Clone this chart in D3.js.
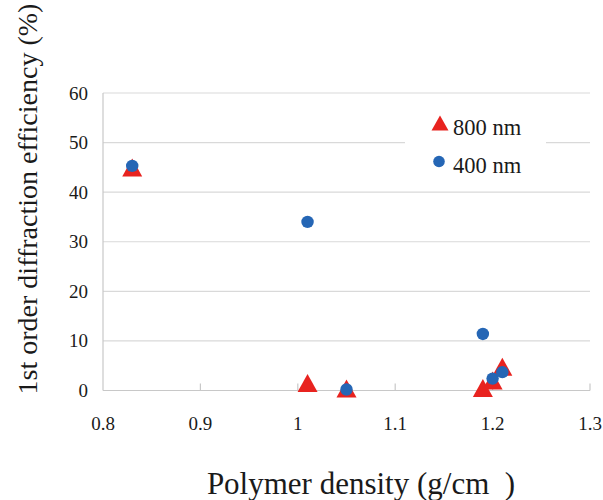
<!DOCTYPE html>
<html>
<head>
<meta charset="utf-8">
<script src="https://cdn.jsdelivr.net/npm/d3@7"></script>
<style>
  html, body { margin: 0; padding: 0; background: #fff; }
  svg { display: block; }
</style>
</head>
<body>
<svg id="chart" width="603" height="500"></svg>
<script>
// Data
const density800 = [0.83, 1.01, 1.05, 1.19, 1.20, 1.21];
const eff800     = [45.0, 1.5, 0.4, 0.5, 2.0, 4.8];
const density400 = [0.83, 1.01, 1.05, 1.19, 1.20, 1.21];
const eff400     = [45.3, 34.0, 0.2, 11.4, 2.4, 3.7];
const xTicks = [0.8, 0.9, 1.0, 1.1, 1.2, 1.3];
const yTicks = [0, 10, 20, 30, 40, 50, 60];
const seriesNames = ["800 nm", "400 nm"];
const xTitle = "Polymer density (g/cm\u00a0\u00a0)";
const yTitle = "1st order diffraction efficiency (%)";

const FONT = "Liberation Serif";
const svg = d3.select("#chart");
const x = d3.scaleLinear().domain([0.8, 1.3]).range([103, 590]);
const y = d3.scaleLinear().domain([0, 60]).range([390.5, 93]);

const red = "#e8231f", blue = "#2566b5";

// gridlines
svg.append("g").selectAll("line").data(yTicks.filter(d => d > 0)).join("line")
  .attr("x1", x(0.8)).attr("x2", x(1.3))
  .attr("y1", d => y(d)).attr("y2", d => y(d))
  .attr("stroke", "#d9d9d9").attr("stroke-width", 1.2);

// axis lines
svg.append("line").attr("x1", x(0.8)).attr("x2", x(0.8)).attr("y1", y(60)).attr("y2", y(0))
  .attr("stroke", "#c8c8c8").attr("stroke-width", 1.2);
svg.append("line").attr("x1", x(0.8)).attr("x2", x(1.3)).attr("y1", y(0)).attr("y2", y(0))
  .attr("stroke", "#c8c8c8").attr("stroke-width", 1.2);
svg.append("g").selectAll("line").data(xTicks.slice(1)).join("line")
  .attr("x1", d => x(d)).attr("x2", d => x(d))
  .attr("y1", y(0)).attr("y2", y(0) - 7)
  .attr("stroke", "#c8c8c8").attr("stroke-width", 1.2);

// tick labels
svg.append("g").selectAll("text").data(yTicks).join("text")
  .attr("x", 88).attr("y", d => y(d) + 6.5)
  .attr("text-anchor", "end").attr("font-size", 19).attr("font-family", FONT).attr("fill", "#1a1a1a")
  .text(d => d);
svg.append("g").selectAll("text").data(xTicks).join("text")
  .attr("x", d => x(d)).attr("y", 429.5)
  .attr("text-anchor", "middle").attr("font-size", 19).attr("font-family", FONT).attr("fill", "#1a1a1a")
  .text(d => d3.format("")(d));

// titles
svg.append("text").attr("x", 361).attr("y", 494)
  .attr("text-anchor", "middle").attr("font-size", 31).attr("font-family", FONT).attr("fill", "#1a1a1a")
  .text(xTitle);
svg.append("text")
  .attr("transform", "translate(37,199) rotate(-90)")
  .attr("text-anchor", "middle").attr("font-size", 28).attr("font-family", FONT).attr("fill", "#1a1a1a")
  .text(yTitle);

// markers
const tri = (w, h) => `M0,${-h/2}L${w/2},${h/2}L${-w/2},${h/2}Z`;
svg.append("g").selectAll("path").data(density800.map((d, i) => [d, eff800[i]])).join("path")
  .attr("d", tri(20, 18))
  .attr("transform", d => `translate(${x(d[0])},${y(d[1])})`)
  .attr("fill", red);
svg.append("g").selectAll("circle").data(density400.map((d, i) => [d, eff400[i]])).join("circle")
  .attr("cx", d => x(d[0])).attr("cy", d => y(d[1])).attr("r", 6.2)
  .attr("fill", blue);

// legend
const lg = svg.append("g");
lg.append("rect").attr("x", 405).attr("y", 105).attr("width", 141).attr("height", 78).attr("fill", "#fff");
lg.append("path").attr("d", tri(17, 15)).attr("transform", "translate(440,123)").attr("fill", red);
lg.append("circle").attr("cx", 439).attr("cy", 161.5).attr("r", 5.8).attr("fill", blue);
lg.append("text").attr("x", 453).attr("y", 135).attr("font-size", 22.5).attr("font-family", FONT).attr("fill", "#1a1a1a").text(seriesNames[0]);
lg.append("text").attr("x", 453).attr("y", 172.5).attr("font-size", 22.5).attr("font-family", FONT).attr("fill", "#1a1a1a").text(seriesNames[1]);
</script>
</body>
</html>
